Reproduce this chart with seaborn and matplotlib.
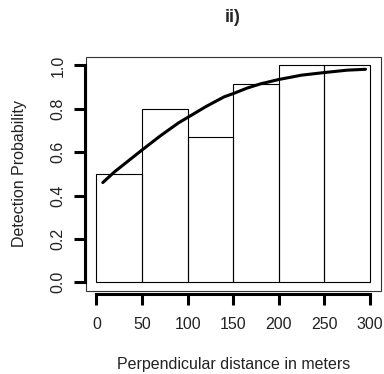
import matplotlib
matplotlib.use("Agg")
import matplotlib.pyplot as plt
import seaborn as sns
import numpy as np
import pandas as pd
from matplotlib.patches import Rectangle

# Data
bin_edges = [0, 50, 100, 150, 200, 250, 300]
bar_heights = [0.5, 0.8, 0.67, 0.915, 1.0, 1.0]
curve_x = [7, 20, 50, 70, 90, 100, 120, 140, 150, 165, 180, 200, 225, 250, 275, 295]
curve_y = [0.46, 0.51, 0.61, 0.675, 0.735, 0.76, 0.81, 0.855, 0.87, 0.895, 0.915, 0.935, 0.955, 0.967, 0.978, 0.982]
x_ticks = [0, 50, 100, 150, 200, 250, 300]
y_ticks = [0.0, 0.2, 0.4, 0.6, 0.8, 1.0]

sns.set_style("white")
plt.rcParams['font.family'] = ['Liberation Sans', 'DejaVu Sans']

fig = plt.figure(figsize=(3.84, 3.74), dpi=100)
ax = fig.add_axes([85.5/384, 1-291/374, (381-85.5)/384, (291-56.7)/374])

centers = [(a + b) / 2 for a, b in zip(bin_edges[:-1], bin_edges[1:])]
df = pd.DataFrame({"x": centers, "w": bar_heights})
sns.histplot(data=df, x="x", weights="w", bins=bin_edges, fill=False,
             color="black", edgecolor="#333333", linewidth=0.8, ax=ax, element="bars")

cdf = pd.DataFrame({"x": curve_x, "y": curve_y})
sns.lineplot(data=cdf, x="x", y="y", color="black", linewidth=2.2, ax=ax)

ax.set_xlim(-12, 312)
ax.set_ylim(-0.04, 1.04)

for s in ["top", "right"]:
    ax.spines[s].set_visible(False)
ax.patch.set_visible(False)
ax.add_patch(Rectangle((0, 0), 1, 1, transform=ax.transAxes, fill=False,
                       edgecolor="#333333", linewidth=0.8, clip_on=False))

ax.spines["left"].set_bounds(0, 1)
ax.spines["bottom"].set_bounds(0, 300)
for s in ["left", "bottom"]:
    ax.spines[s].set_linewidth(2.2)
    ax.spines[s].set_color("black")
ax.spines["left"].set_position(("outward", 0.5))
ax.spines["bottom"].set_position(("outward", 2.5))

ax.set_xticks(x_ticks)
ax.set_xticklabels([str(t) for t in x_ticks])
ax.set_yticks(y_ticks)
ax.set_yticklabels([f"{t:.1f}" for t in y_ticks], rotation=90, va="center")
ax.tick_params(axis="both", which="major", bottom=True, left=True, direction="out",
               length=8, width=2.2, color="black",
               labelsize=11.5, labelcolor="#222222")
ax.tick_params(axis="x", pad=8)
ax.tick_params(axis="y", pad=6)

ax.set_xlabel("Perpendicular distance in meters", fontsize=11.5, color="#222222", labelpad=18)
ax.set_ylabel("Detection Probability", fontsize=11.5, color="#222222", labelpad=17)
fig.text(233/384, 1-17/374, "ii)", ha="center", va="center", fontsize=13, fontweight="bold")

fig.savefig("out.png", dpi=100)
